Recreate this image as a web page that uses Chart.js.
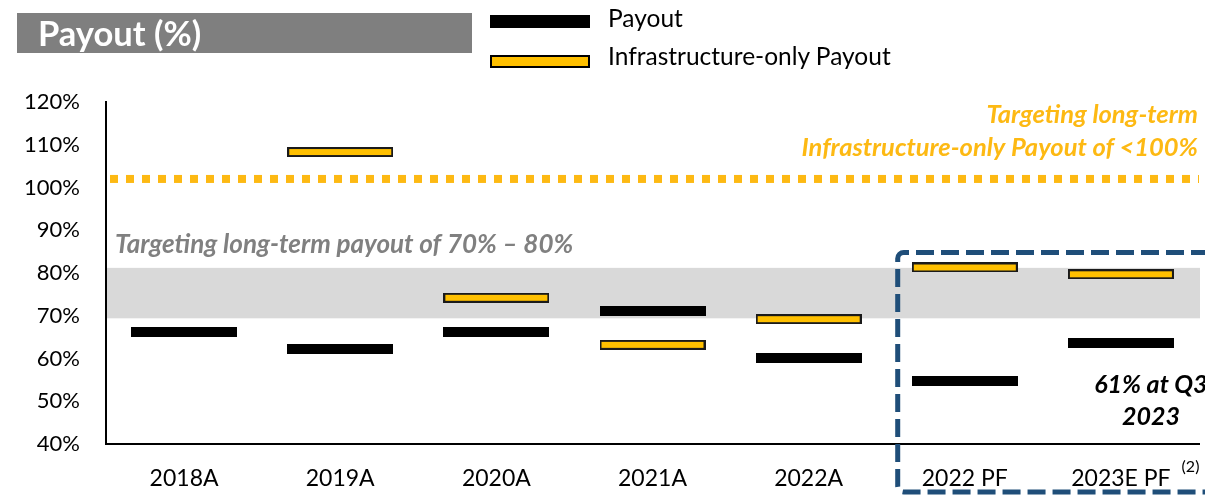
<!DOCTYPE html>
<html>
<head>
<meta charset="utf-8">
<script src="https://cdn.jsdelivr.net/npm/chart.js@4.4.1/dist/chart.umd.min.js"></script>
<style>
  html, body { margin: 0; padding: 0; background: #fff; }
  #wrap { position: relative; width: 1205px; height: 496px; overflow: hidden; font-family: Lato, "DejaVu Sans", sans-serif; }
  #chart { position: absolute; left: 0; top: 0; }
  .title { position: absolute; left: 17px; top: 13px; width: 455px; height: 40px; background: #7f7f7f;
           color: #fff; font-weight: bold; font-size: 34.5px; line-height: 40px; padding-left: 21px; box-sizing: border-box; }
  .lg-box { position: absolute; left: 490px; width: 100px; box-sizing: border-box; }
  .lg-text { position: absolute; left: 608px; font-size: 24.5px; color: #000; line-height: 28px; white-space: nowrap; }
</style>
</head>
<body>
<div id="wrap">
  <canvas id="chart" width="1205" height="496"></canvas>
  <div class="title">Payout (%)</div>
  <div class="lg-box" style="top:15px;height:13px;background:#000;"></div>
  <div class="lg-text" style="top:4px;">Payout</div>
  <div class="lg-box" style="top:55px;height:13px;background:#FFC000;border:2px solid #000;"></div>
  <div class="lg-text" style="top:42px;">Infrastructure-only Payout</div>
</div>
<script>
// ---- data ----
const categories = ['2018A', '2019A', '2020A', '2021A', '2022A', '2022 PF', '2023E PF'];
const payout = [66.2, 62.2, 66.2, 71.2, 60.2, 54.7, 63.7];
const infraPayout = [null, 108.3, 74.2, 63.2, 69.2, 81.3, 79.7];
const yTickValues = [40, 50, 60, 70, 80, 90, 100, 110, 120];
const targetBand = [69.4, 81.2];          // shaded long-term payout target range
const infraTarget = 102;                  // dotted infrastructure-only target line
const grayNote = 'Targeting long-term payout of 70% \u2013 80%';
const orangeNote = ['Targeting long-term', 'Infrastructure-only Payout of <100%'];
const q3Note = ['61% at Q3', '2023'];
const footnoteMark = '(2)';

// ---- marker images ----
function makeMarker(fill, border) {
  const c = document.createElement('canvas');
  c.width = 106; c.height = 10;
  const g = c.getContext('2d');
  g.fillStyle = border || fill;
  g.fillRect(0, 0, 106, 10);
  if (border) { g.fillStyle = fill; g.fillRect(2, 2, 102, 6); }
  return c;
}
const blackMarker = makeMarker('#000000');
const yellowMarker = makeMarker('#FFC000', '#1a1a1a');

const FONT = 'Lato, "DejaVu Sans", sans-serif';

const decorPlugin = {
  id: 'decor',
  beforeDatasetsDraw(chart) {
    const { ctx, chartArea: a, scales: { y } } = chart;
    ctx.save();
    // band
    const yTop = y.getPixelForValue(targetBand[1]);
    const yBot = y.getPixelForValue(targetBand[0]);
    ctx.fillStyle = '#D9D9D9';
    ctx.fillRect(a.left + 1, yTop, a.right - a.left, yBot - yTop);
    // dotted line
    const yd = y.getPixelForValue(infraTarget);
    ctx.strokeStyle = '#FDB913';
    ctx.lineWidth = 8;
    ctx.setLineDash([8, 8]);
    ctx.beginPath();
    ctx.moveTo(a.left + 4, yd);
    ctx.lineTo(a.right, yd);
    ctx.stroke();
    ctx.setLineDash([]);
    // gray note
    ctx.font = 'italic bold 26px ' + FONT;
    ctx.fillStyle = '#808080';
    ctx.textAlign = 'left';
    ctx.textBaseline = 'middle';
    ctx.fillText(grayNote, a.left + 9, y.getPixelForValue(86.7));
    // orange note
    ctx.font = 'italic bold 25.5px ' + FONT;
    ctx.fillStyle = '#FDB913';
    ctx.textAlign = 'right';
    ctx.fillText(orangeNote[0], a.right - 1, y.getPixelForValue(117));
    ctx.fillText(orangeNote[1], a.right - 1, y.getPixelForValue(109.4));
    ctx.restore();
  },
  afterDraw(chart) {
    const { ctx, chartArea: a, scales: { x, y } } = chart;
    ctx.save();
    const step = x.getPixelForValue(1) - x.getPixelForValue(0);
    // Q3 note
    const cx = x.getPixelForValue(6) + 30;
    ctx.font = 'italic bold 25px ' + FONT;
    ctx.fillStyle = '#000';
    ctx.textAlign = 'center';
    ctx.textBaseline = 'middle';
    ctx.fillText(q3Note[0], cx, y.getPixelForValue(53.9));
    ctx.fillText(q3Note[1], cx, y.getPixelForValue(46.4));
    // footnote superscript
    ctx.font = '23px ' + FONT;
    const lw = ctx.measureText(categories[6]).width;
    ctx.font = '16px ' + FONT;
    ctx.textAlign = 'left';
    ctx.fillText(footnoteMark, x.getPixelForValue(6) + lw / 2 + 11, a.bottom + 23);
    // dashed box
    const left = x.getPixelForValue(5) - step / 2 + 11;
    const top = y.getPixelForValue(84.8);
    const bottom = 492;
    const r = 6;
    ctx.strokeStyle = '#1F4E79';
    ctx.lineWidth = 5;
    ctx.setLineDash([18, 7]);
    ctx.beginPath();
    ctx.moveTo(a.right + 10, top);
    ctx.lineTo(left + r, top);
    ctx.arcTo(left, top, left, top + r, r);
    ctx.lineTo(left, bottom - r);
    ctx.arcTo(left, bottom, left + r, bottom, r);
    ctx.lineTo(a.right + 10, bottom);
    ctx.stroke();
    ctx.restore();
  }
};

new Chart(document.getElementById('chart'), {
  type: 'line',
  data: {
    labels: categories,
    datasets: [
      { label: 'Payout', data: payout, showLine: false, pointStyle: blackMarker, pointRadius: 5 },
      { label: 'Infrastructure-only Payout', data: infraPayout, showLine: false, pointStyle: yellowMarker, pointRadius: 5 }
    ]
  },
  options: {
    responsive: false,
    animation: false,
    events: [],
    layout: { padding: { top: 102, right: 0, bottom: 0, left: 0 } },
    plugins: { legend: { display: false }, tooltip: { enabled: false } },
    scales: {
      x: {
        type: 'category',
        offset: true,
        grid: { display: false },
        border: { color: '#000', width: 2 },
        ticks: { color: '#000', font: { family: FONT, size: 23 }, padding: 13, maxRotation: 0, autoSkip: false },
        afterFit(s) { s.height = 52; }
      },
      y: {
        min: 40, max: 120,
        grid: { display: false },
        border: { color: '#000', width: 2 },
        afterBuildTicks(s) { s.ticks = yTickValues.map(v => ({ value: v })); },
        ticks: { color: '#000', font: { family: FONT, size: 22 }, padding: 18, callback: v => v + '%' },
        afterFit(s) { s.width = 106; }
      }
    }
  },
  plugins: [decorPlugin]
});
</script>
</body>
</html>
